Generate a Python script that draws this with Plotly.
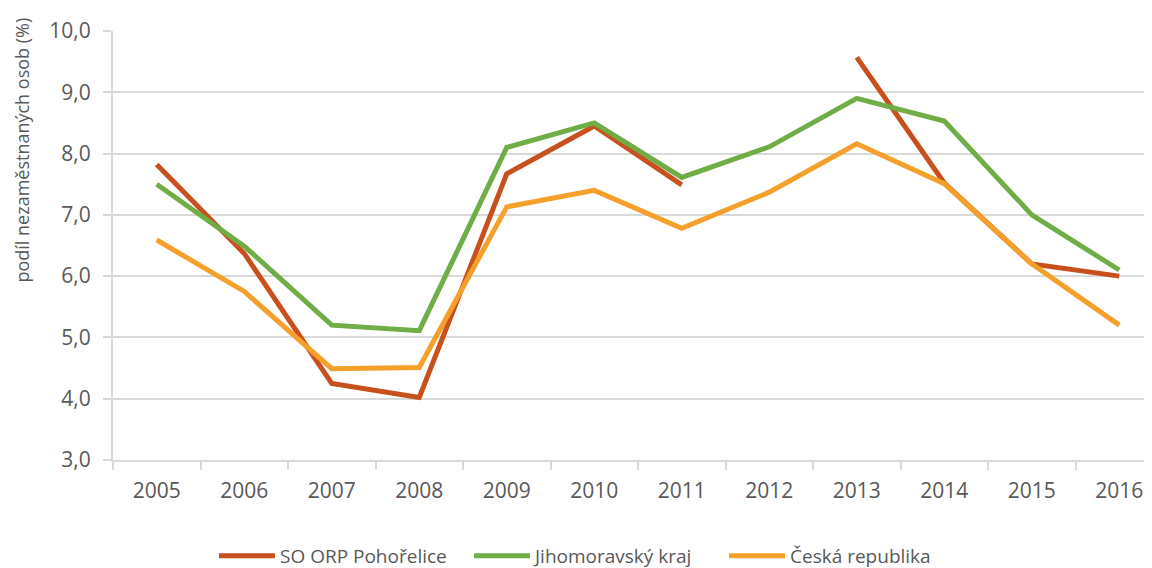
import plotly.graph_objects as go

years = ["2005", "2006", "2007", "2008", "2009", "2010", "2011", "2012", "2013", "2014", "2015", "2016"]
orp_pohorelice = [7.82, 6.37, 4.25, 4.02, 7.67, 8.45, 7.49, None, 9.57, 7.52, 6.2, 6.0]
jihomoravsky = [7.5, 6.49, 5.2, 5.11, 8.1, 8.5, 7.61, 8.11, 8.9, 8.53, 7.0, 6.1]
ceska_republika = [6.59, 5.75, 4.49, 4.51, 7.13, 7.4, 6.78, 7.37, 8.16, 7.51, 6.2, 5.2]

series_names = ["SO ORP Pohořelice", "Jihomoravský kraj", "Česká republika"]
colors = ["#C8501D", "#70AD47", "#F5A02A"]
y_ticks = [3, 4, 5, 6, 7, 8, 9, 10]

FONT = "Open Sans"
TXT = "#595959"
GRID = "#D9D9D9"

# page body has an 8px default margin: figure is 1144x560 so it fills the 1152x568 window
W, H = 1144, 560

fig = go.Figure()
for name, vals, col in zip(series_names, [orp_pohorelice, jihomoravsky, ceska_republika], colors):
    fig.add_trace(go.Scatter(
        x=years, y=vals, name=name, mode="lines",
        line=dict(color=col, width=5), connectgaps=False,
    ))

fig.update_layout(
    width=W, height=H,
    margin=dict(l=105, r=0, t=23, b=108, autoexpand=False),
    paper_bgcolor="white", plot_bgcolor="white",
    separators=", ",
    font=dict(family=FONT, color=TXT),
    showlegend=True,
    legend=dict(
        orientation="h", x=206 / W, xref="container", xanchor="left",
        y=12 / H, yref="container", yanchor="middle",
        font=dict(family=FONT, size=19, color=TXT),
        itemwidth=56, entrywidth=184, entrywidthmode="pixels",
        traceorder="normal",
    ),
    xaxis=dict(
        type="category", range=[-0.5, 11.374], automargin=False,
        showgrid=False, showline=True, linecolor=GRID, linewidth=2,
        ticks="outside", tickson="boundaries", ticklen=8, tickcolor=GRID, tickwidth=2,
        tickfont=dict(family=FONT, size=21, color=TXT),
        ticklabelstandoff=11,
    ),
    yaxis=dict(
        range=[3, 10], tickvals=y_ticks, tickformat=".1f", automargin=False,
        showgrid=True, gridcolor=GRID, gridwidth=2,
        showline=True, linecolor=GRID, linewidth=2,
        ticks="outside", ticklen=8, tickcolor=GRID, tickwidth=2,
        tickfont=dict(family=FONT, size=21, color=TXT),
        ticklabelstandoff=8, zeroline=False,
    ),
    annotations=[dict(
        text="podíl nezaměstnaných osob (%)", textangle=-90,
        xref="paper", yref="paper", x=-0.088, y=0.7226,
        xanchor="center", yanchor="middle", showarrow=False,
        font=dict(family=FONT, size=18, color=TXT),
    )],
)

fig.write_html("out.html")
